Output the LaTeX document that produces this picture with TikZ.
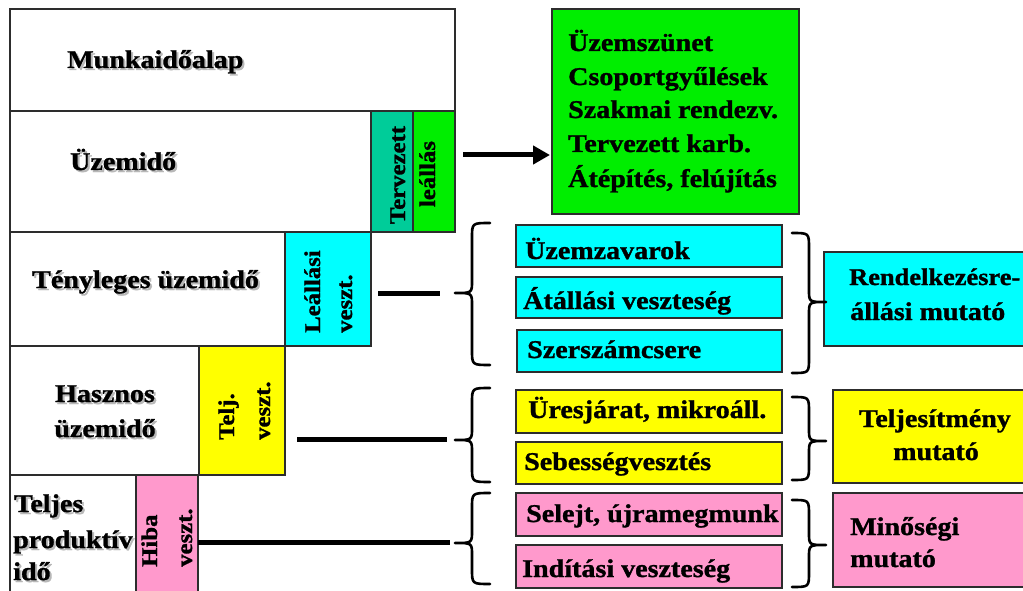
\documentclass[tikz,border=0pt]{standalone}
\usepackage{fontspec}
\setmainfont{Liberation Serif}[FakeStretch=1.1,BoldFeatures={FakeBold=1.2}]
\usetikzlibrary{arrows.meta}
\definecolor{cteal}{RGB}{0,204,153}
\definecolor{cgreen}{RGB}{0,238,0}
\definecolor{ccyan}{RGB}{0,255,255}
\definecolor{cyel}{RGB}{255,255,0}
\definecolor{cpink}{RGB}{255,153,204}
\definecolor{cborder}{RGB}{45,45,45}
\newcommand\txtshadow[1]{\makebox[0pt][l]{\kern2pt\raisebox{-2pt}{\textcolor{black!28}{#1}}}#1}
\newcommand\mybox[6]{\node[boxst,fill=#6,minimum width={#4-#2},minimum height={#5-#3},anchor=north west] (#1) at (#2,#3) {};}
\newcommand\bracepath[6]{\draw[bracest] (#1,#4) .. controls (#2,#4) .. (#2,#4+15) -- (#2,#5-12) .. controls (#2,#5) .. (#3,#5) .. controls (#2,#5) .. (#2,#5+12) -- (#2,#6-15) .. controls (#2,#6) .. (#1,#6);}
\begin{document}
\begin{tikzpicture}[x=1pt,y=-1pt,
  boxst/.style={draw=cborder,line width=1.3pt,inner sep=0pt,outer sep=0pt},
  txt/.style={inner sep=0pt,font=\fontsize{25.5}{34}\selectfont\bfseries,anchor=base west},
  rtxt/.style={inner sep=0pt,font=\fontsize{22.5}{30}\selectfont\bfseries,anchor=base west,rotate=90},
  bracest/.style={line width=2.6pt,line cap=round,line join=round},
  conn/.style={line width=5pt},
  arr/.style={line width=5pt,-{Triangle[length=17pt,width=18pt]}}]
\useasboundingbox (0,0) rectangle (1023,591);
\clip (0,0) rectangle (1023,591);
% left stack
\mybox{munka}{10}{9}{455}{111}{white}
\mybox{uzem}{10}{111}{371}{232}{white}
\mybox{terv}{371}{111}{413}{232}{cteal}
\mybox{leall}{413}{111}{455}{232}{cgreen}
\mybox{teny}{10}{232}{285}{346}{white}
\mybox{lveszt}{285}{232}{371}{346}{ccyan}
\mybox{hasz}{10}{346}{199}{475}{white}
\mybox{tveszt}{199}{346}{285}{475}{cyel}
\mybox{telj}{10}{475}{136}{598}{white}
\mybox{hveszt}{136}{475}{198}{598}{cpink}
\node[txt] (tmunka) at (67,68) {\txtshadow{Munkaidőalap}};
\node[txt] (tuzem) at (70,170) {\txtshadow{Üzemidő}};
\node[txt] (tteny) at (32,288) {\txtshadow{Tényleges üzemidő}};
\node[txt,anchor=base] (thasz1) at (105,402) {\txtshadow{Hasznos}};
\node[txt,anchor=base] (thasz2) at (105,437) {\txtshadow{üzemidő}};
\node[txt] (ttelj1) at (14,512) {\txtshadow{Teljes}};
\node[txt] (ttelj2) at (13,548) {\txtshadow{produktív}};
\node[txt] (ttelj3) at (13,580) {\txtshadow{idő}};
\node[rtxt,anchor=base] (tterv) at (405,175) {Tervezett};
\node[rtxt,anchor=base] (tleall) at (435,174) {leállás};
\node[rtxt] (tlv1) at (320,333) {Leállási};
\node[rtxt] (tlv2) at (352,333) {veszt.};
\node[rtxt] (ttv1) at (234,440) {Telj.};
\node[rtxt] (ttv2) at (270,440) {veszt.};
\node[rtxt] (thv1) at (157,567) {Hiba};
\node[rtxt] (thv2) at (192,567) {veszt.};
% green info box
\mybox{ginfo}{552}{9}{799}{214}{cgreen}
\node[txt] (g1) at (568,51) {Üzemszünet};
\node[txt] (g2) at (568,85) {Csoportgyűlések};
\node[txt] (g3) at (568,118) {Szakmai rendezv.};
\node[txt] (g4) at (568,152) {Tervezett karb.};
\node[txt] (g5) at (568,187) {Átépítés, felújítás};
\coordinate (ar) at (463,155);
\draw[arr] (ar) -- ([xshift=-2pt]ginfo.west |- ar);
% loss items
\mybox{c1}{516}{225}{782}{267}{ccyan}
\mybox{c2}{516}{277}{782}{318}{ccyan}
\mybox{c3}{517}{330}{782}{372}{ccyan}
\mybox{y1}{516}{390}{782}{433}{cyel}
\mybox{y2}{516}{442}{782}{484}{cyel}
\mybox{p1}{516}{493}{782}{536}{cpink}
\mybox{p2}{516}{545}{782}{588}{cpink}
\node[txt] (tc1) at (525,259) {Üzemzavarok};
\node[txt] (tc2) at (523,309) {Átállási veszteség};
\node[txt] (tc3) at (527,358) {Szerszámcsere};
\node[txt] (ty1) at (528,418) {Üresjárat, mikroáll.};
\node[txt] (ty2) at (524,470) {Sebességvesztés};
\node[txt] (tp1) at (526,522) {Selejt, újramegmunk};
\node[txt] (tp2) at (522,577) {Indítási veszteség};
% indicators
\mybox{rend}{824}{252}{1032}{346}{ccyan}
\mybox{tmut}{833}{390}{1032}{483}{cyel}
\mybox{mmut}{833}{493}{1032}{587}{cpink}
\node[txt,font=\fontsize{24}{32}\selectfont\bfseries] (tr1) at (849,285) {Rendelkezésre-};
\node[txt] (tr2) at (850,320) {állási mutató};
\node[txt,anchor=base] (tt1) at (935,427) {Teljesítmény};
\node[txt,anchor=base] (tt2) at (936,460) {mutató};
\node[txt] (tm1) at (850,535) {Minőségi};
\node[txt] (tm2) at (850,567) {mutató};
% braces
\bracepath{490}{472}{455}{223}{293}{365}
\bracepath{490}{472}{455}{388}{440}{482}
\bracepath{490}{472}{455}{493}{543}{584}
\bracepath{792}{809}{826}{233}{302}{373}
\bracepath{792}{809}{826}{397}{441}{480}
\bracepath{792}{809}{826}{500}{545}{587}
% connectors
\coordinate (l1s) at (378,293); \coordinate (l1e) at (440,293);
\coordinate (l2s) at (297,439); \coordinate (l2e) at (447,439);
\coordinate (l3e) at (450,542);
\draw[conn] (l1s) -- (l1e);
\draw[conn] (l2s) -- (l2e);
\draw[conn] (hveszt.east |- l3e) -- (l3e);
\end{tikzpicture}
\end{document}
